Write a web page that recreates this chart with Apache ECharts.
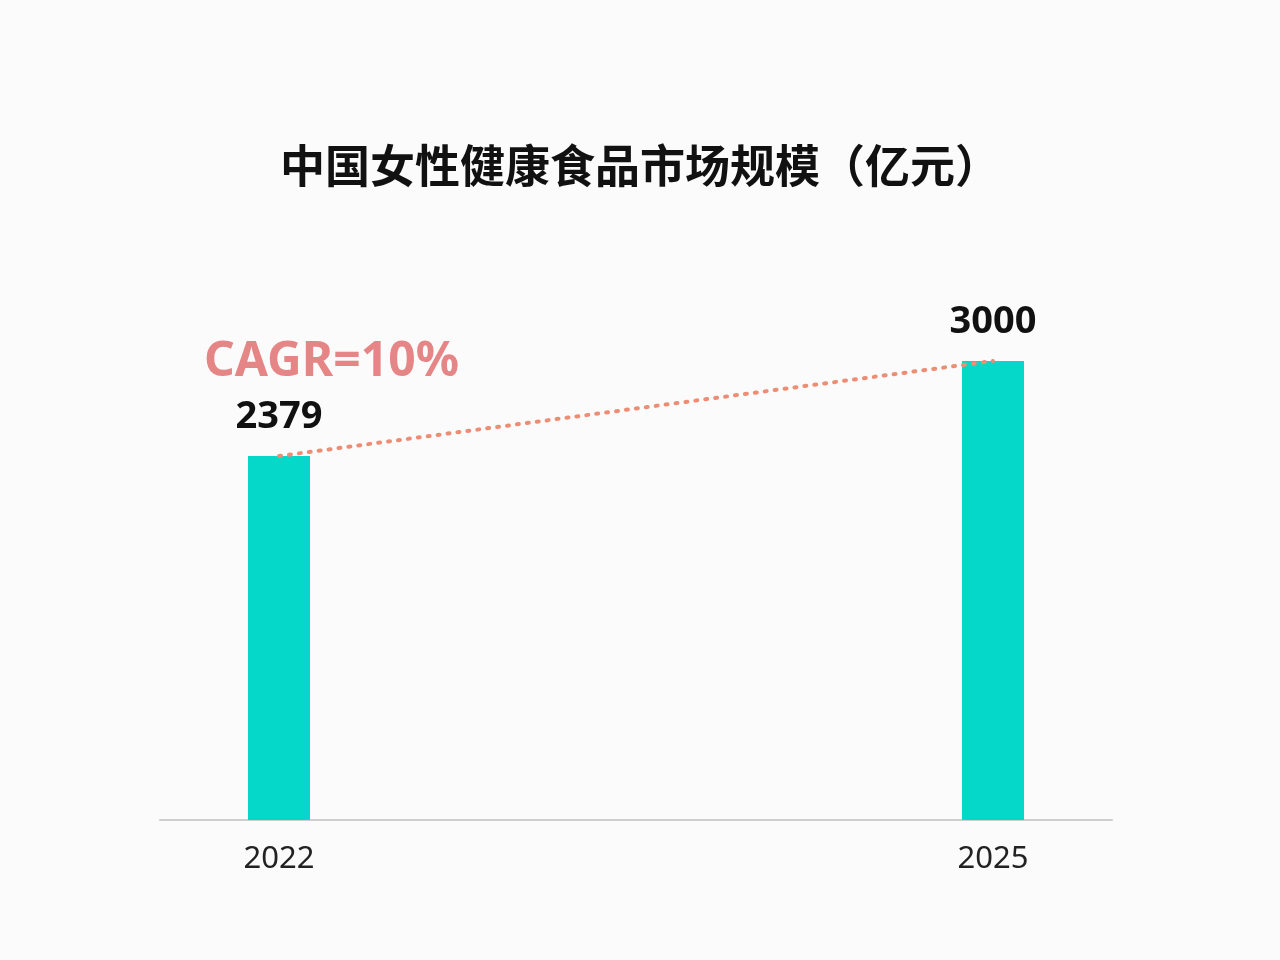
<!DOCTYPE html>
<html><head><meta charset="utf-8">
<script src="https://cdn.jsdelivr.net/npm/echarts@6/dist/echarts.min.js"></script>
<style>html,body{margin:0;padding:0;background:#fcfbfb}#c{width:1280px;height:960px}</style>
</head><body><div id="c"></div>
<script>
const categories = ['2022','2023','2024','2025'];
const shownYears = ['2022','2025'];
const values = [2379, null, null, 3000];
const titleText = '中国女性健康食品市场规模（亿元）';
const cagrText = 'CAGR=10%';

const chart = echarts.init(document.getElementById('c'));
chart.setOption({
  backgroundColor: '#fcfbfb',
  title: {text: titleText, left: 'center', top: 138,
    textStyle: {fontFamily: 'Noto Sans CJK SC', fontSize: 45, fontWeight: 'bold', color: '#111'}},
  grid: {left: 160, right: 168, top: 284.5, bottom: 140},
  xAxis: {type: 'category', data: categories,
    axisLine: {lineStyle: {color: '#cfcfcf', width: 2}}, axisTick: {show: false},
    axisLabel: {interval: 0, margin: 24, fontSize: 31, color: '#222', fontFamily: 'Noto Sans',
      formatter: v => shownYears.includes(v) ? v : ''}},
  yAxis: {type: 'value', min: 0, max: 3500, show: false, splitLine: {show: false}},
  graphic: [{type: 'text', left: 204, top: 338,
    style: {text: cagrText, fontSize: 48, fontWeight: 'bold', fontFamily: 'Noto Sans',
      fill: '#e58585', shadowColor: 'rgba(0,0,0,0.25)', shadowBlur: 4, shadowOffsetX: 2, shadowOffsetY: 2}}],
  series: [
    {type: 'bar', data: values, barWidth: 62, itemStyle: {color: '#05d8c9'},
      label: {show: true, position: 'top', distance: 20, fontSize: 38, fontWeight: 'bold', color: '#111', fontFamily: 'Noto Sans'}},
    {type: 'line', data: values, connectNulls: true, symbol: 'none', z: 5,
      lineStyle: {color: '#ec8d74', width: 4, type: [2, 8], cap: 'round'}}
  ]
});
</script></body></html>
